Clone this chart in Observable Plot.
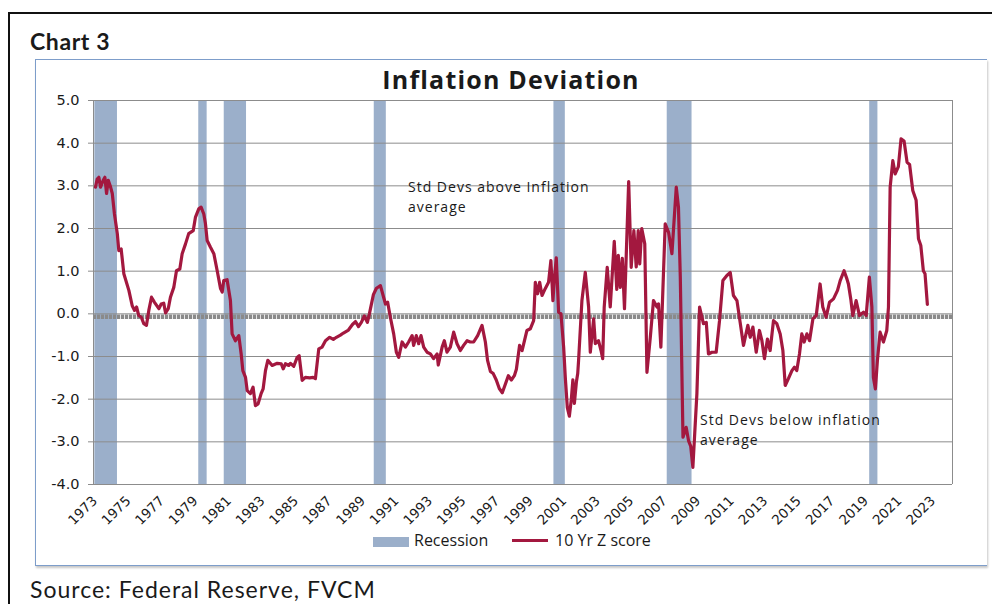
<!DOCTYPE html>
<html><head><meta charset="utf-8">
<script src="https://cdn.jsdelivr.net/npm/d3@7"></script>
<script src="https://cdn.jsdelivr.net/npm/@observablehq/plot@0.6"></script>
<style>
body{margin:0;background:#fff;}
#page{position:relative;width:992px;height:604px;overflow:hidden;background:#fff;font-family:"Open Sans",sans-serif;color:#1a1a1a;}
#outer{position:absolute;left:8px;top:12px;width:1100px;height:700px;border:2px solid #111;}
#inner{position:absolute;left:35px;top:59px;width:951px;height:505px;border:1.5px solid #7d9dca;border-right:none;box-shadow:1px 2px 2px #c8c8c8;}
#chartno{position:absolute;left:30px;top:27px;font:bold 23px Lato,sans-serif;letter-spacing:0.6px;line-height:normal;white-space:nowrap;}
#title{position:absolute;left:261px;width:500px;top:62px;text-align:center;font:bold 25px "Open Sans",sans-serif;letter-spacing:1.2px;line-height:normal;white-space:nowrap;}
#plot{position:absolute;left:0;top:0;}
.note{position:absolute;font:14px "Open Sans",sans-serif;letter-spacing:1px;line-height:19.3px;white-space:nowrap;color:#1a1a1a;}
.leg{position:absolute;font:16px "Open Sans",sans-serif;line-height:19px;white-space:nowrap;color:#1a1a1a;}
#source{position:absolute;left:30px;top:575px;font:23px Lato,sans-serif;letter-spacing:1px;line-height:normal;white-space:nowrap;color:#1a1a1a;}
</style>
</head><body>
<div id="page">
  <div id="outer"></div>
  <div id="inner"></div>
  <div id="chartno">Chart 3</div>
  <div id="plot"></div>
  <div id="title">Inflation Deviation</div>
  <div class="note" style="left:408px;top:177px;">Std Devs above Inflation</div>
  <div class="note" style="left:408px;top:196.5px;">average</div>
  <div class="note" style="left:700px;top:410px;">Std Devs below inflation</div>
  <div class="note" style="left:700px;top:429.5px;">average</div>
  <div id="legRecSw" style="position:absolute;left:373px;top:537px;width:36px;height:10px;"></div>
  <div class="leg" style="left:414px;top:531px;">Recession</div>
  <div id="legLineSw" style="position:absolute;left:512px;top:539px;width:36px;height:3px;"></div>
  <div class="leg" style="left:555px;top:531px;">10 Yr Z score</div>
  <div id="source">Source: Federal Reserve, FVCM</div>
</div>
<script>
// ---- data ----
const seriesName = "10 Yr Z score";
const recessionName = "Recession";
// decimal years
const dates = [
1973.87,1973.97,1974.07,1974.17,1974.33,1974.43,1974.53,1974.63,1974.77,1974.87,
1975.00,1975.17,1975.26,1975.40,1975.56,1975.86,1976.06,1976.20,1976.32,1976.45,
1976.60,1976.75,1976.91,1977.05,1977.21,1977.39,1977.65,1977.79,1977.94,1978.05,
1978.21,1978.34,1978.54,1978.70,1978.90,1979.04,1979.24,1979.43,1979.70,1979.83,
1980.03,1980.17,1980.33,1980.43,1980.53,1980.73,1980.93,1981.13,1981.33,1981.43,
1981.52,1981.72,1981.92,1982.02,1982.22,1982.42,1982.56,1982.66,1982.82,1982.92,
1983.11,1983.27,1983.41,1983.57,1983.75,1983.87,1984.01,1984.15,1984.41,1984.71,
1984.95,1985.07,1985.20,1985.40,1985.50,1985.70,1985.90,1986.02,1986.20,1986.39,
1986.65,1986.85,1986.99,1987.19,1987.39,1987.59,1987.84,1988.06,1988.24,1988.48,
1988.66,1988.96,1989.20,1989.38,1989.56,1989.73,1989.91,1990.09,1990.21,1990.45,
1990.63,1990.87,1991.05,1991.17,1991.30,1991.46,1991.66,1991.82,1991.96,1992.16,
1992.36,1992.55,1992.76,1992.85,1993.01,1993.15,1993.29,1993.45,1993.65,1993.85,
1994.04,1994.25,1994.32,1994.55,1994.68,1994.84,1995.04,1995.24,1995.44,1995.64,
1995.83,1996.04,1996.23,1996.43,1996.67,1996.93,1997.13,1997.26,1997.43,1997.60,
1997.78,1997.96,1998.14,1998.32,1998.50,1998.68,1998.86,1998.98,1999.17,1999.32,
1999.61,1999.81,2000.01,2000.11,2000.25,2000.37,2000.51,2000.70,2000.90,2001.04,
2001.16,2001.24,2001.36,2001.50,2001.64,2001.80,2001.90,2002.02,2002.14,2002.26,
2002.35,2002.44,2002.56,2002.64,2002.69,2002.89,2003.09,2003.29,2003.39,2003.59,
2003.69,2003.88,2004.03,2004.13,2004.22,2004.40,2004.58,2004.82,2004.97,2005.06,
2005.18,2005.30,2005.43,2005.68,2005.83,2005.99,2006.13,2006.25,2006.34,2006.46,
2006.64,2006.77,2006.97,2007.16,2007.37,2007.46,2007.60,2007.86,2008.06,2008.26,
2008.52,2008.65,2008.76,2008.92,2009.11,2009.25,2009.38,2009.51,2009.75,2009.91,
2010.14,2010.31,2010.44,2010.65,2010.90,2011.10,2011.30,2011.54,2011.74,2011.93,
2012.14,2012.33,2012.53,2012.79,2012.93,2013.09,2013.29,2013.48,2013.63,2013.78,
2013.96,2014.12,2014.32,2014.52,2014.72,2014.88,2015.02,2015.21,2015.42,2015.57,
2015.71,2015.87,2016.01,2016.15,2016.31,2016.47,2016.67,2016.87,2017.10,2017.26,
2017.46,2017.66,2017.90,2018.14,2018.30,2018.53,2018.70,2018.79,2018.93,2019.05,
2019.25,2019.45,2019.69,2019.85,2020.04,2020.19,2020.28,2020.40,2020.52,2020.68,
2020.88,2021.08,2021.18,2021.28,2021.44,2021.58,2021.77,2021.93,2022.11,2022.29,
2022.44,2022.63,2022.83,2022.97,2023.11,2023.26,2023.36,2023.50
];
const zscores = [
2.97,3.16,3.20,2.97,3.13,3.20,2.82,3.13,2.97,2.82,
2.34,1.88,1.48,1.52,0.94,0.55,0.19,0.08,0.16,-0.04,
-0.08,-0.23,-0.27,0.08,0.39,0.27,0.12,0.23,0.25,0.02,
0.12,0.39,0.62,1.01,1.05,1.41,1.64,1.88,1.95,2.26,
2.46,2.50,2.34,2.11,1.72,1.56,1.41,1.01,0.59,0.51,
0.78,0.80,0.31,-0.47,-0.63,-0.51,-0.94,-1.33,-1.49,-1.80,
-1.87,-1.72,-2.15,-2.11,-1.87,-1.76,-1.33,-1.09,-1.21,-1.16,
-1.17,-1.29,-1.17,-1.21,-1.16,-1.23,-1.02,-0.98,-1.56,-1.49,
-1.50,-1.49,-1.52,-0.82,-0.78,-0.63,-0.55,-0.60,-0.55,-0.50,
-0.45,-0.38,-0.25,-0.18,-0.30,-0.20,-0.05,-0.20,0.00,0.45,
0.60,0.66,0.40,0.23,0.27,-0.08,-0.47,-0.90,-1.02,-0.66,
-0.78,-0.66,-0.51,-0.74,-0.51,-0.70,-0.51,-0.78,-0.90,-0.94,
-1.05,-0.94,-1.20,-0.78,-0.63,-0.90,-0.78,-0.43,-0.70,-0.86,
-0.74,-0.63,-0.66,-0.66,-0.51,-0.27,-0.66,-1.09,-1.35,-1.40,
-1.55,-1.75,-1.85,-1.65,-1.45,-1.55,-1.45,-1.30,-0.74,-0.86,
-0.39,-0.35,-0.16,0.74,0.47,0.74,0.43,0.59,0.74,1.25,
0.31,0.78,1.31,0.04,0.00,-0.78,-1.50,-2.20,-2.40,-2.00,
-1.55,-2.10,-1.60,-1.40,-1.10,0.31,0.97,0.16,-0.90,-0.12,
-0.70,-0.63,-0.86,-1.05,0.16,1.09,0.16,1.70,0.57,1.37,
0.62,1.30,0.12,3.10,1.09,1.95,1.10,1.95,1.17,2.00,
1.64,-1.37,-0.55,0.31,0.16,0.23,-0.78,2.11,1.91,1.41,
2.97,2.50,0.86,-2.89,-2.66,-2.97,-3.10,-3.60,-1.87,0.16,
-0.23,-0.20,-0.94,-0.90,-0.90,-0.16,0.78,0.90,0.97,0.43,
0.31,-0.20,-0.74,-0.27,-0.55,-0.31,-0.90,-0.39,-0.63,-1.05,
-0.59,-0.86,-0.16,-0.23,-0.47,-0.86,-1.68,-1.52,-1.33,-1.25,
-1.33,-0.94,-0.47,-0.66,-0.47,-0.63,-0.12,-0.04,0.70,0.16,
-0.08,0.27,0.35,0.55,0.78,1.01,0.82,0.70,0.35,-0.04,
0.31,-0.04,0.04,-0.04,0.86,0.16,-1.49,-1.76,-1.09,-0.43,
-0.66,-0.39,0.16,2.97,3.59,3.28,3.45,4.10,4.05,3.55,
3.50,2.89,2.66,1.76,1.60,1.01,0.94,0.22
];
// recession periods (decimal years)
const recessionStarts = [1973.83, 1980.03, 1981.55, 1990.50, 2001.22, 2007.98, 2020.06];
const recessionEnds   = [1975.18, 1980.53, 1982.88, 1991.22, 2001.90, 2009.46, 2020.55];
// axes
const yTicks = [-4, -3, -2, -1, 0, 1, 2, 3, 4, 5];
const tickYears = [1973,1975,1977,1979,1981,1983,1985,1987,1989,1991,1993,1995,1997,1999,2001,2003,2005,2007,2009,2011,2013,2015,2017,2019,2021,2023];
const tickMonthOffset = 10 / 12; // category axis starts in November
const xDomain = [1973.75, 2025.0];
const yDomain = [-4, 5];
const averageLevel = -0.07;

// ---- colours ----
const lineColor = "#A3183F";
const recColor = "#9BAFCA";
const gridColor = "#8c8c8c";

const series = dates.map((t, i) => ({t, v: zscores[i]}));
const recessions = recessionStarts.map((s, i) => ({start: s, end: recessionEnds[i]}));
const xTicks = tickYears.map(y => y + tickMonthOffset);

const chart = Plot.plot({
  width: 992,
  height: 540,
  marginLeft: 93,
  marginRight: 40,
  marginTop: 100,
  marginBottom: 56,
  style: {fontFamily: "'DejaVu Sans', sans-serif", fontSize: "14px", color: "#1a1a1a", background: "transparent", overflow: "visible"},
  x: {type: "linear", domain: xDomain, label: null},
  y: {domain: yDomain, label: null},
  marks: [
    Plot.rect(recessions, {x1: "start", x2: "end", y1: yDomain[0], y2: yDomain[1], fill: recColor}),
    Plot.ruleY(yTicks, {stroke: gridColor, strokeWidth: 1}),
    Plot.ruleY([averageLevel], {stroke: "#8a8a8a", strokeWidth: 4.5, strokeDasharray: "3.2,0.8"}),
    Plot.ruleX([xDomain[0], xDomain[1]], {stroke: gridColor, strokeWidth: 1}),
    Plot.line(series, {x: "t", y: "v", stroke: lineColor, strokeWidth: 3.2, strokeLinejoin: "round", strokeLinecap: "round"}),
    Plot.axisY({ticks: yTicks, tickFormat: d => d.toFixed(1), tickSize: 5, tickPadding: 9, stroke: gridColor, fill: "#1a1a1a", fontSize: 14.5, label: null}),
    Plot.axisX({ticks: xTicks, tickFormat: d => String(Math.round(d - tickMonthOffset)), tickRotate: -45, tickSize: 0, tickPadding: 14, fill: "#1a1a1a", fontSize: 13.5, label: null})
  ]
});
document.getElementById("plot").appendChild(chart);
document.getElementById("legRecSw").style.background = recColor;
document.getElementById("legLineSw").style.background = lineColor;
</script>
</body></html>
